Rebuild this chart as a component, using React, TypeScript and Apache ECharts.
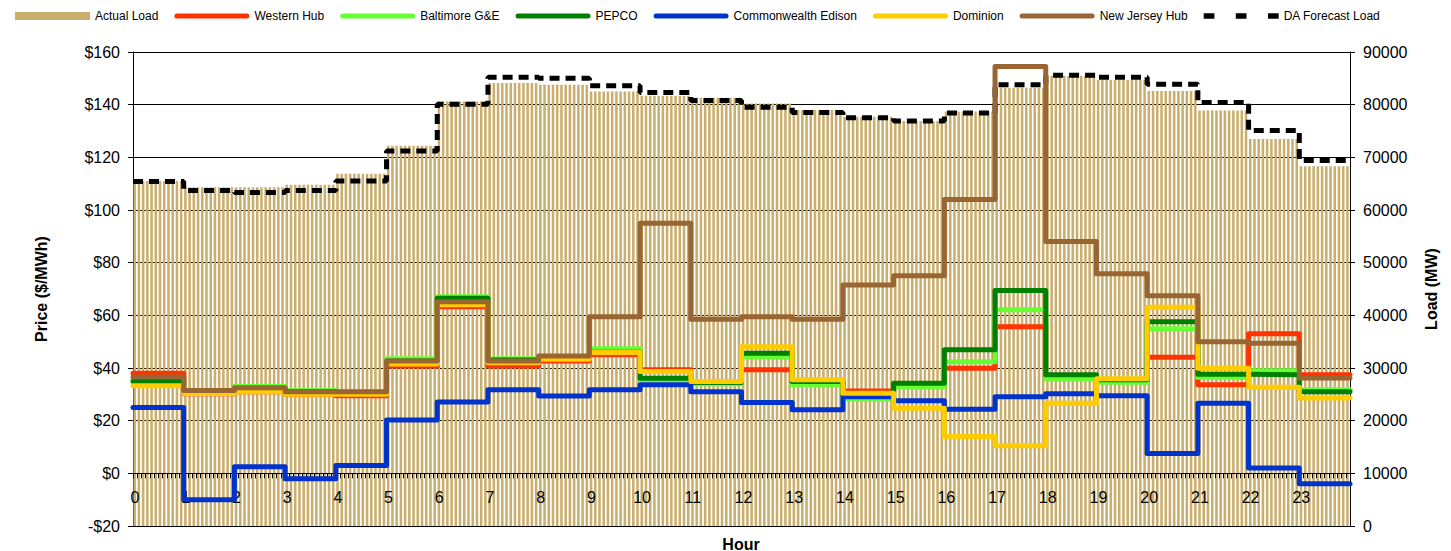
import React, { useEffect, useRef } from 'react';
import * as echarts from 'echarts';

const hours = [0, 1, 2, 3, 4, 5, 6, 7, 8, 9, 10, 11, 12, 13, 14, 15, 16, 17, 18, 19, 20, 21, 22, 23];

const actualLoad = [65500, 64300, 64300, 64800, 66900, 72200, 80600, 84100, 83800, 82500, 81700, 81300,
  80200, 79000, 77700, 76900, 78700, 83200, 85500, 84700, 82600, 78900, 73500, 68300];
const forecastLoad = [65400, 63700, 63300, 63700, 65500, 71200, 80100, 85200, 85000, 83600, 82300, 80800,
  79500, 78500, 77500, 76900, 78400, 83800, 85600, 85200, 83900, 80400, 75100, 69400];

const westernHub = [38, 30.2, 31, 30, 29.5, 40.8, 63.3, 40.8, 42.7, 45, 39.3, 34.5,
  39.3, 34.5, 31.3, 33.5, 39.9, 55.7, 36, 35, 44.1, 33.6, 53, 37.4];
const baltimore = [35.5, 31, 33, 31.5, 31, 43.5, 67.1, 43.5, 44, 47.3, 35.5, 34,
  44.3, 33.6, 28.2, 32.9, 42.4, 62.1, 35.9, 34.6, 54.9, 36.5, 39, 31.7];
const pepco = [34.9, 31, 32, 31, 30.5, 42.7, 66.5, 43, 43.5, 46, 36.1, 34.5,
  45.6, 34.9, 30, 34.2, 46.9, 69.4, 37.4, 35.5, 57.6, 37.6, 37.4, 31];
const comed = [25, -10, 2.5, -2.1, 3, 20.3, 27.1, 31.7, 29.4, 31.7, 33.6, 31,
  26.9, 24.1, 29.1, 27.6, 24.3, 29.1, 30.2, 29.5, 7.5, 26.6, 2, -4];
const dominion = [33.3, 30.3, 31, 30, 30, 41.5, 64, 42, 43.3, 45.9, 38.7, 34.9,
  48.1, 35.5, 30.4, 24.7, 14, 10.5, 26.6, 35.9, 63.1, 39.9, 32.7, 28.6];
const njHub = [36.6, 31.5, 32.5, 31, 31, 42.7, 65.2, 42.7, 44.6, 59.5, 95, 58.5,
  59.5, 58.5, 71.5, 75, 104, 154.5, 88, 75.8, 67.4, 50, 49.4, 36.2];

const priceTicks = { min: -20, max: 160, interval: 20 };
const loadTicks = { min: 0, max: 90000, interval: 10000 };

const FONT = '"Liberation Sans", Arial, sans-serif';
const LOAD_COLOR = '#C9AE6D';

const GRID_TOP = 52;
const GRID_BOTTOM = 25;
const CHART_H = 551;

const priceSeries = [
  { name: 'Western Hub', data: westernHub, color: '#FF3300' },
  { name: 'Baltimore G&E', data: baltimore, color: '#66FF33' },
  { name: 'PEPCO', data: pepco, color: '#008000' },
  { name: 'Commonwealth Edison', data: comed, color: '#0033CC' },
  { name: 'Dominion', data: dominion, color: '#FFCC00' },
  { name: 'New Jersey Hub', data: njHub, color: '#996633' },
];

const LINE_ICON = 'path://M2.5,0h70a2.5,2.5 0 0 1 0,5h-70a2.5,2.5 0 0 1 0,-5z';
const DASH_ICON = 'path://M0,0h10v5h-10z M30,0h10v5h-10z M60,0h10v5h-10z';

function stepData(vals: number[]) {
  const pts = vals.map((v, i) => [hours[i], v]);
  pts.push([hours.length, vals[vals.length - 1]]);
  return pts;
}

export default function App() {
  const ref = useRef<HTMLDivElement>(null);
  useEffect(() => {
    const chart = echarts.init(ref.current!, null, { renderer: 'svg' });
    const plotH = CHART_H - GRID_TOP - GRID_BOTTOM;
    // distance from the bottom of the plot up to the price axis' zero
    const zeroOffset = (plotH * (0 - priceTicks.min)) / (priceTicks.max - priceTicks.min);
    const option: any = {
      animation: false,
      backgroundColor: '#fff',
      textStyle: { fontFamily: FONT },
      grid: {
        left: 133,
        right: 101,
        top: GRID_TOP,
        bottom: GRID_BOTTOM,
        containLabel: false,
        outerBoundsMode: 'none',
      },
      legend: {
        left: 15,
        top: 10,
        padding: 0,
        itemWidth: 75,
        itemHeight: 8,
        itemGap: 16,
        symbolKeepAspect: true,
        textStyle: { fontSize: 12, color: '#000', fontFamily: FONT },
        data: [
          { name: 'Actual Load', icon: 'rect' },
          ...priceSeries.map((s) => ({ name: s.name, icon: LINE_ICON })),
          { name: 'DA Forecast Load', icon: DASH_ICON },
        ],
      },
      xAxis: {
        type: 'value',
        min: 0,
        max: 24,
        interval: 1,
        z: 2,
        offset: -zeroOffset,
        axisLine: { show: true, onZero: false, lineStyle: { color: '#000', width: 1 } },
        axisTick: { show: true, length: 5, lineStyle: { color: '#000' } },
        minorTick: { show: true, splitNumber: 12, length: 5, lineStyle: { color: '#000' } },
        splitLine: { show: false },
        minorSplitLine: { show: false },
        axisLabel: {
          fontSize: 16,
          color: '#000',
          margin: 16,
          padding: [0, 0, 0, 4],
          fontFamily: FONT,
          formatter: (v: number) => (v >= 24 ? '' : String(v)),
        },
      },
      yAxis: [
        {
          type: 'value',
          position: 'left',
          ...priceTicks,
          name: 'Price ($/MWh)',
          nameLocation: 'middle',
          nameRotate: 90,
          nameGap: 84,
          nameTextStyle: { fontSize: 16, fontWeight: 'bold', color: '#000', fontFamily: FONT },
          axisLine: { show: true, onZero: false, lineStyle: { color: '#000', width: 1 } },
          axisTick: { show: true, length: 5, lineStyle: { color: '#000' } },
          axisLabel: {
            fontSize: 16,
            color: '#000',
            margin: 13,
            fontFamily: FONT,
            formatter: (v: number) => (v < 0 ? '-$' + -v : '$' + v),
          },
          splitLine: { show: true, lineStyle: { color: '#000', width: 1 } },
        },
        {
          type: 'value',
          position: 'right',
          ...loadTicks,
          name: 'Load (MW)',
          nameLocation: 'middle',
          nameRotate: 90,
          nameGap: 73,
          nameTextStyle: { fontSize: 16, fontWeight: 'bold', color: '#000', fontFamily: FONT },
          axisLine: { show: true, onZero: false, lineStyle: { color: '#000', width: 1 } },
          axisTick: { show: true, length: 5, lineStyle: { color: '#000' } },
          axisLabel: {
            fontSize: 16,
            color: '#000',
            margin: 13,
            fontFamily: FONT,
            formatter: (v: number) => String(v),
          },
          splitLine: { show: false },
        },
      ],
      graphic: [
        {
          type: 'text',
          x: 741,
          y: 544,
          style: {
            text: 'Hour',
            align: 'center',
            verticalAlign: 'middle',
            font: 'bold 16px ' + FONT,
            fill: '#000',
          },
        },
      ],
      series: [
        {
          name: 'Actual Load',
          type: 'custom',
          xAxisIndex: 0,
          yAxisIndex: 1,
          itemStyle: { color: LOAD_COLOR },
          encode: { x: 0, y: 1 },
          data: hours.map((h, i) => [h, actualLoad[i]]),
          renderItem: (params: any, api: any) => {
            const h = api.value(0);
            const load = api.value(1);
            const top = api.coord([h, load]);
            const bottom = api.coord([h + 1, 0]);
            const slot = (bottom[0] - top[0]) / 12;
            const children: any[] = [];
            for (let i = 0; i < 12; i++) {
              children.push({
                type: 'rect',
                shape: { x: top[0] + i * slot + 0.4, y: top[1], width: slot * 0.6, height: bottom[1] - top[1] },
                style: { fill: LOAD_COLOR },
              });
            }
            return { type: 'group', children };
          },
          z: 1,
        },
        ...priceSeries.map((s) => ({
          name: s.name,
          type: 'line',
          step: 'end',
          symbol: 'none',
          yAxisIndex: 0,
          color: s.color,
          lineStyle: { color: s.color, width: 5, cap: 'round', join: 'round' },
          data: stepData(s.data),
          z: 3,
        })),
        {
          name: 'DA Forecast Load',
          type: 'line',
          step: 'end',
          symbol: 'none',
          yAxisIndex: 1,
          color: '#000',
          lineStyle: { color: '#000', width: 5, type: [10, 6] },
          data: stepData(forecastLoad),
          z: 2,
        },
      ],
    };
    chart.setOption(option);
    return () => chart.dispose();
  }, []);
  return <div ref={ref} style={{ position: 'absolute', left: 0, top: 0, width: 1451, height: 551 }} />;
}
